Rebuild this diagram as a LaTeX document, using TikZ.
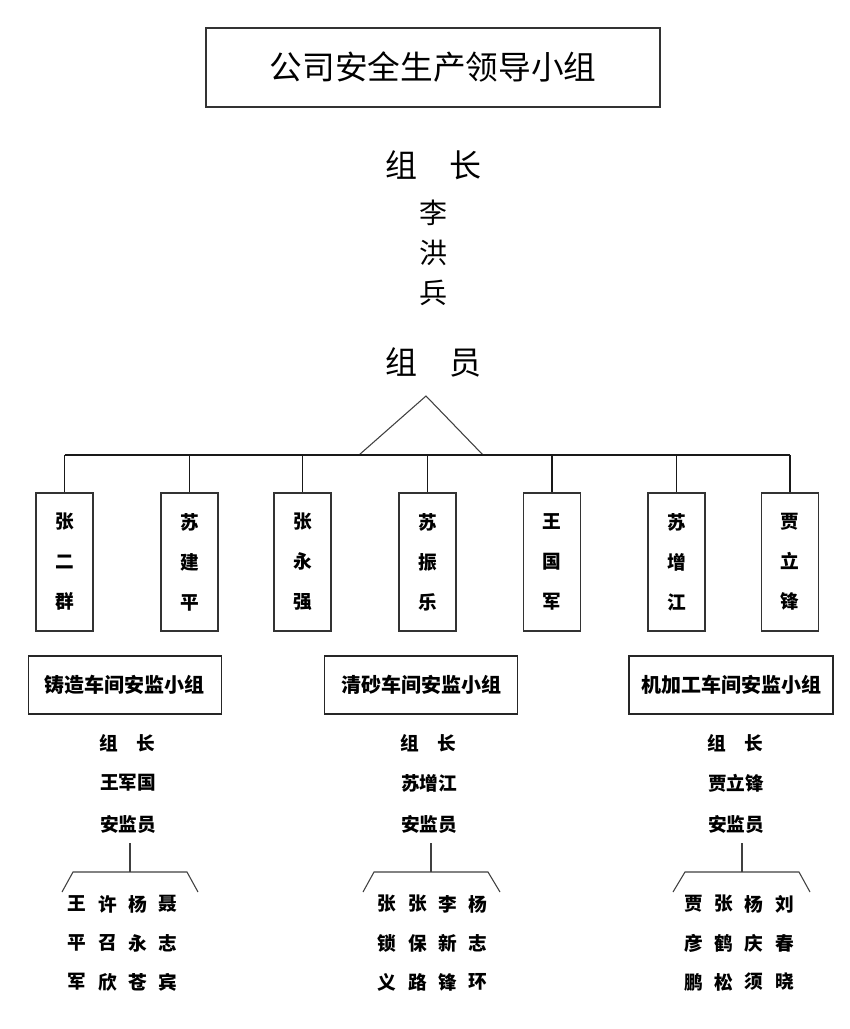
\documentclass[tikz,border=0pt]{standalone}
\usepackage{fontspec}
\setmainfont{Noto Sans CJK SC}
\newfontfamily\cjk{Noto Sans CJK SC}
\begin{document}
\begin{tikzpicture}[x=0.75pt,y=-0.75pt,
  line/.style={draw=black!75,line width=0.8pt},
  namebox/.style={draw=black!80,line width=0.9pt,minimum width=57*0.75pt,minimum height=138*0.75pt,inner sep=0pt,font=\fontsize{14}{17}\selectfont\bfseries,align=center},
  subbox/.style={draw=black!85,line width=0.9pt,minimum height=58*0.75pt,inner sep=0pt,font=\fontsize{15}{18}\selectfont\bfseries},
  item/.style={inner sep=0pt,font=\fontsize{14}{17}\selectfont\bfseries},
  big/.style={inner sep=0pt,font=\fontsize{24}{28}\selectfont},
  mid/.style={inner sep=0pt,font=\fontsize{21}{25}\selectfont}]
\useasboundingbox[fill=white] (0,0) rectangle (850,1029);
% title
\node[draw=black!80,line width=0.9pt,minimum width=454*0.75pt,minimum height=79*0.75pt,inner sep=0pt,font=\fontsize{24.5}{28}\selectfont] (title) at (433,67.5) {公司安全生产领导小组};
\node[big] (zz) at (433,165) {组\hspace{1em}长};
\node[mid] (l1) at (433,213) {李};
\node[mid] (l2) at (433,253) {洪};
\node[mid] (l3) at (433,293) {兵};
\node[big] (zy) at (433,362) {组\hspace{1em}员};
% triangle
\coordinate (apex) at (426,396);
\coordinate (tl) at (359,455);
\coordinate (tr) at (483,455);
\draw[line] (tl) -- (apex) -- (tr);
% names
\foreach \n/\x/\a/\b/\c in {1/64.5/张/二/群,2/189.5/苏/建/平,3/302.5/张/永/强,4/427.5/苏/振/乐,5/552/王/国/军,6/676.5/苏/增/江,7/790/贾/立/锋}{
  \node[namebox] (m\n) at (\x,562) {\a\\[13pt]\b\\[13pt]\c};
}
\coordinate (hl) at (64.5,455);
\coordinate (hr) at (790,455);
\draw[line,draw=black!90] (hl) -- (hr);
\foreach \n in {1,...,7}{
  \draw[line,draw=black!90] (m\n.north |- hl) -- (m\n.north);
}
% sub groups
\node[subbox,minimum width=193*0.75pt] (ga) at (125,685) {铸造车间安监小组};
\node[subbox,minimum width=193*0.75pt] (gb) at (421,685) {清砂车间安监小组};
\node[subbox,minimum width=204*0.75pt] (gc) at (731,685) {机加工车间安监小组};
% group A
\node[item] (az) at (127,743) {组\hspace{1em}长};
\node[item] (an) at (128,783) {王军国};
\node[item] (ay) at (128,824) {安监员};
\coordinate (av) at (130,843);
\coordinate (ah) at (130,872);
\coordinate (ahl) at (73,872);
\coordinate (ahr) at (187,872);
\coordinate (ael) at (62,892);
\coordinate (aer) at (198,892);
\draw[line] (av) -- (ah);
\draw[line] (ael) -- (ahl) -- (ahr) -- (aer);
\foreach \r/\y/\a/\b/\c/\d in {1/904/王/许/杨/聂,2/943/平/召/永/志,3/982/军/欣/苍/宾}{
  \node[item] (a\r1) at (77,\y) {\a};
  \node[item] (a\r2) at (108,\y) {\b};
  \node[item] (a\r3) at (138,\y) {\c};
  \node[item] (a\r4) at (168,\y) {\d};
}
% group B
\node[item] (bz) at (428,743) {组\hspace{1em}长};
\node[item] (bn) at (429,783) {苏增江};
\node[item] (by) at (429,824) {安监员};
\coordinate (bv) at (431,843);
\coordinate (bh) at (431,872);
\coordinate (bhl) at (374,872);
\coordinate (bhr) at (488,872);
\coordinate (bel) at (363,892);
\coordinate (ber) at (500,892);
\draw[line] (bv) -- (bh);
\draw[line] (bel) -- (bhl) -- (bhr) -- (ber);
\foreach \r/\y/\a/\b/\c/\d in {1/904/张/张/李/杨,2/943/锁/保/新/志,3/982/义/路/锋/环}{
  \node[item] (b\r1) at (387,\y) {\a};
  \node[item] (b\r2) at (418,\y) {\b};
  \node[item] (b\r3) at (448,\y) {\c};
  \node[item] (b\r4) at (478,\y) {\d};
}
% group C
\node[item] (cz) at (735,743) {组\hspace{1em}长};
\node[item] (cn) at (736,783) {贾立锋};
\node[item] (cy) at (736,824) {安监员};
\coordinate (cv) at (742,843);
\coordinate (ch) at (742,872);
\coordinate (chl) at (685,872);
\coordinate (chr) at (799,872);
\coordinate (cel) at (673,892);
\coordinate (cer) at (810,892);
\draw[line] (cv) -- (ch);
\draw[line] (cel) -- (chl) -- (chr) -- (cer);
\foreach \r/\y/\a/\b/\c/\d in {1/904/贾/张/杨/刘,2/943/彦/鹤/庆/春,3/982/鹏/松/须/晓}{
  \node[item] (c\r1) at (694,\y) {\a};
  \node[item] (c\r2) at (724,\y) {\b};
  \node[item] (c\r3) at (754,\y) {\c};
  \node[item] (c\r4) at (785,\y) {\d};
}
\end{tikzpicture}
\end{document}
